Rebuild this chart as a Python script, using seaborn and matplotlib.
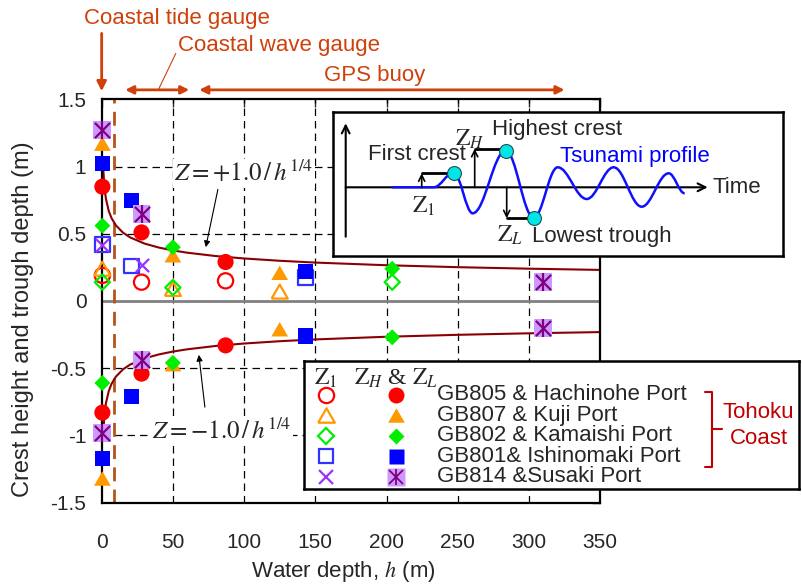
import numpy as np
import pandas as pd
import matplotlib
matplotlib.use("Agg")
import matplotlib.pyplot as plt
import seaborn as sns
from matplotlib.path import Path
from matplotlib.patches import PathPatch

# ---------------- data ----------------
station_labels = ["GB805 & Hachinohe Port", "GB807 & Kuji Port", "GB802 & Kamaishi Port",
                  "GB801& Ishinomaki Port", "GB814 &Susaki Port"]

h_805 = [0.5, 28, 87]
z1_805 = [0.19, 0.14, 0.15]
zh_805 = [0.85, 0.51, 0.29]
zl_805 = [-0.83, -0.54, -0.33]

h_807 = [0.5, 50, 125]
z1_807 = [0.24, 0.09, 0.07]
zh_807 = [1.17, 0.34, 0.21]
zl_807 = [-1.32, -0.47, -0.21]

h_802 = [0.5, 50, 204]
z1_802 = [0.14, 0.10, 0.14]
zh_802 = [0.56, 0.40, 0.24]
zl_802 = [-0.61, -0.46, -0.27]

h_801 = [0.5, 21, 143]
z1_801 = [0.42, 0.26, 0.175]
zh_801 = [1.02, 0.75, 0.22]
zl_801 = [-1.17, -0.71, -0.26]

h_814 = [0.5, 28, 310]
z1_814 = [0.42, 0.27, np.nan]
zh_814 = [1.27, 0.65, 0.14]
zl_814 = [-0.98, -0.44, -0.20]

# model curve Z = +/- 1.0 / h^(1/4), sampled depths
curve_h = [1, 2, 3, 5, 7, 10, 15, 20, 30, 40, 50, 60, 80, 100, 125, 150, 200, 250, 300, 350]
curve_coef = 1.0

x_ticks = [0, 50, 100, 150, 200, 250, 300, 350]
y_ticks = [-1.5, -1.0, -0.5, 0.0, 0.5, 1.0, 1.5]
y_ticklabels = ["-1.5", "-1", "-0.5", "0", "0.5", "1", "1.5"]
wave_gauge_limit = 9   # brown dashed line depth

# schematic tsunami profile (inset): extrema, arbitrary units
wave_t = [46, 88, 108, 127, 160, 188, 212, 241, 268, 296, 323, 339]
wave_z = [0, 0, 14.6, -26, 36.6, -30.4, 20, -11.7, 20, -19.4, 14, -6]

# ---------------- style ----------------
sns.set_style("white")
plt.rcParams["font.family"] = ["Liberation Sans", "DejaVu Sans"]
plt.rcParams["axes.unicode_minus"] = False
plt.rcParams["mathtext.fontset"] = "stix"

RED, ORANGE, GREEN, BLUE, OBLUE = "#FF0000", "#FF9900", "#00EE00", "#0000FF", "#3333FF"
PX, PSQ, PAST = "#9933FF", "#CC99FF", "#800080"
ANN = "#D0400A"
CURVE = "#8B0000"

tri = [(-1, -0.866), (1, -0.866), (0, 0.866), (-1, -0.866)]

styles = [
    dict(h=h_805, z1=z1_805, zh=zh_805, zl=zl_805, mk="o", c=RED, oc=RED, s_f=135, s_o=120),
    dict(h=h_807, z1=z1_807, zh=zh_807, zl=zl_807, mk=tri, c=ORANGE, oc=ORANGE, s_f=145, s_o=135),
    dict(h=h_802, z1=z1_802, zh=zh_802, zl=zl_802, mk="D", c=GREEN, oc=GREEN, s_f=66, s_o=60),
    dict(h=h_801, z1=z1_801, zh=zh_801, zl=zl_801, mk="s", c=BLUE, oc=OBLUE, s_f=118, s_o=108),
]

fig = plt.figure(figsize=(8.03, 5.84), dpi=100)
ax = fig.add_axes([0.1266, 0.1392, 0.6208, 0.6908])

ax.set_xlim(0, 350)
ax.set_ylim(-1.5, 1.5)
ax.set_xticks(x_ticks)
ax.set_yticks(y_ticks)
ax.set_yticklabels(y_ticklabels)
ax.tick_params(direction="in", top=True, right=True, length=6, width=1, labelsize=15)
ax.tick_params(axis="x", pad=22)
ax.tick_params(axis="y", pad=11)
for sp in ax.spines.values():
    sp.set_linewidth(1.6)
    sp.set_color("black")

# grid lines (dashed)
for xv in x_ticks[1:-1]:
    ax.axvline(xv, color="black", lw=0.9, ls=(0, (6, 4)), zorder=1)
for yv in [-1.0, -0.5, 0.5, 1.0]:
    ax.axhline(yv, color="black", lw=0.9, ls=(0, (6, 4)), zorder=1)
ax.axhline(0, color="#808080", lw=2, zorder=1.5)
ax.axvline(wave_gauge_limit, color="#B5541C", lw=2, ls=(0, (5, 3)), zorder=1.6)

# model curves
ch = np.array(curve_h, dtype=float)
curve_df = pd.DataFrame({"h": np.concatenate([ch, ch]),
                         "z": np.concatenate([curve_coef / ch ** 0.25, -curve_coef / ch ** 0.25]),
                         "side": ["up"] * len(ch) + ["down"] * len(ch)})
for side in ["up", "down"]:
    d = curve_df[curve_df["side"] == side]
    sns.lineplot(data=d, x="h", y="z", sort=False, estimator=None, color=CURVE, lw=1.5, ax=ax, zorder=2)

# data points
for st in styles:
    sns.scatterplot(x=st["h"], y=st["z1"], marker=st["mk"], s=st["s_o"], color=st["oc"],
                    facecolor="none", edgecolor=st["oc"], linewidth=1.6, ax=ax, zorder=3, clip_on=False)
for st in styles:
    sns.scatterplot(x=st["h"] + st["h"], y=st["zh"] + st["zl"], marker=st["mk"], s=st["s_f"],
                    color=st["c"], edgecolor="none", linewidth=0, ax=ax, zorder=4, clip_on=False)
sns.scatterplot(x=h_814, y=z1_814, marker="x", s=90, color=PX, linewidth=1.6, ax=ax, zorder=3, clip_on=False)
sns.scatterplot(x=h_814 + h_814, y=zh_814 + zl_814, marker="s", s=165, color=PSQ,
                edgecolor="none", linewidth=0, ax=ax, zorder=5, clip_on=False)
for mk, sz in [("x", 120), ("|", 150)]:
    sns.scatterplot(x=h_814 + h_814, y=zh_814 + zl_814, marker=mk, s=sz, color=PAST,
                    linewidth=1.6, ax=ax, zorder=6, clip_on=False)

ax.set_xlabel("Water depth, $h$ (m)", fontsize=16, math_fontfamily="stix")
ax.xaxis.set_label_coords(0.485, -0.140)
ax.set_ylabel("Crest height and trough depth (m)", fontsize=17)
ax.yaxis.set_label_coords(-0.136, 0.455)

# formula labels
ax.text(100, 0.95, r"$Z=+1.0\,/\,h^{1/4}$", fontsize=18, ha="center", va="center",
        bbox=dict(facecolor="white", edgecolor="none", pad=1), zorder=7)
ax.annotate("", xy=(72.7, 0.38), xytext=(82, 0.85),
            arrowprops=dict(arrowstyle="-|>", color="black", lw=0.8, mutation_scale=9), zorder=7)
ax.text(84.4, -0.972, r"$Z=-1.0\,/\,h^{1/4}$", fontsize=18, ha="center", va="center",
        bbox=dict(facecolor="white", edgecolor="none", pad=1), zorder=7)
ax.annotate("", xy=(68, -0.38), xytext=(72.7, -0.81),
            arrowprops=dict(arrowstyle="-|>", color="black", lw=0.8, mutation_scale=9), zorder=7)

# gauge annotations above the axes
ax.text(52.7, 2.10, "Coastal tide gauge", color=ANN, fontsize=16, ha="center", va="center", clip_on=False)
ax.text(124.4, 1.90, "Coastal wave gauge", color=ANN, fontsize=16, ha="center", va="center", clip_on=False)
ax.text(191.8, 1.675, "GPS buoy", color=ANN, fontsize=16, ha="center", va="center", clip_on=False)
ax.annotate("", xy=(0, 1.56), xytext=(0, 1.99), annotation_clip=False,
            arrowprops=dict(arrowstyle="-|>", color=ANN, lw=2, mutation_scale=14, shrinkA=0, shrinkB=0))
ax.annotate("", xy=(16.5, 1.57), xytext=(61.5, 1.57), annotation_clip=False,
            arrowprops=dict(arrowstyle="<|-|>", color=ANN, lw=2, mutation_scale=12, shrinkA=0, shrinkB=0))
ax.annotate("", xy=(68.5, 1.57), xytext=(325, 1.57), annotation_clip=False,
            arrowprops=dict(arrowstyle="<|-|>", color=ANN, lw=2, mutation_scale=12, shrinkA=0, shrinkB=0))
ax.annotate("", xy=(40, 1.575), xytext=(52, 1.84), annotation_clip=False,
            arrowprops=dict(arrowstyle="-", color=ANN, lw=0.8, shrinkA=0, shrinkB=0))

# ---------------- inset: tsunami profile schematic ----------------
ins = fig.add_axes([333.3 / 803, 1 - 255.7 / 584, 450 / 803, 144 / 584])
ins.set_xlim(-12.4, 437.6)
ins.set_ylim(-68.4, 75.6)
ins.set_xticks([]); ins.set_yticks([])
ins.set_facecolor("white")
for sp in ins.spines.values():
    sp.set_linewidth(1.8); sp.set_color("black"); sp.set_visible(True)
ins.annotate("", xy=(0, 64), xytext=(0, -49.4),
             arrowprops=dict(arrowstyle="->", color="black", lw=1.5, shrinkA=0, shrinkB=0, mutation_scale=14))
ins.annotate("", xy=(362, 0), xytext=(0, 0),
             arrowprops=dict(arrowstyle="->", color="black", lw=1.5, shrinkA=0, shrinkB=0, mutation_scale=14))
verts = [(wave_t[0], wave_z[0])]
codes = [Path.MOVETO]
for i in range(len(wave_t) - 1):
    t0, z0, t1, z1 = wave_t[i], wave_z[i], wave_t[i + 1], wave_z[i + 1]
    dt = t1 - t0
    verts += [(t0 + 0.37 * dt, z0), (t1 - 0.37 * dt, z1), (t1, z1)]
    codes += [Path.CURVE4] * 3
ins.add_patch(PathPatch(Path(verts, codes), facecolor="none", edgecolor="#1010FF", lw=1.8, zorder=3))
for (tx, tz) in [(wave_t[2], wave_z[2]), (wave_t[4], wave_z[4]), (wave_t[5], wave_z[5])]:
    ins.plot([tx], [tz], marker="o", ms=10, mfc="#00E5E5", mec="#205050", mew=0.8, zorder=5)
# Z1 / ZH / ZL indicators
for (xa, ztop, xend) in [(76, 14, 103), (129, 38.5, 154), (161, -31, 184)]:
    ins.annotate("", xy=(xa, ztop), xytext=(xa, 0),
                 arrowprops=dict(arrowstyle="->", color="black", lw=1.2, shrinkA=0, shrinkB=0, mutation_scale=11))
    ins.plot([xa, xend], [ztop, ztop], color="black", lw=2, zorder=2)
ins.text(71, 32.3, "First crest", fontsize=16, ha="center", va="center")
ins.text(211, 57.3, "Highest crest", fontsize=16, ha="center", va="center")
ins.text(289, 30.6, "Tsunami profile", fontsize=16, ha="center", va="center", color="#0000FF")
ins.text(256.6, -49.4, "Lowest trough", fontsize=16, ha="center", va="center")
ins.text(367, 0, "Time", fontsize=16, ha="left", va="center")
ins.text(78, -19.4, r"$\mathrm{Z}_{1}$", fontsize=17, ha="center", va="center")
ins.text(124, 48, r"$\mathrm{Z}_{H}$", fontsize=17, ha="center", va="center")
ins.text(164, -47.7, r"$\mathrm{Z}_{L}$", fontsize=17, ha="center", va="center")

# ---------------- legend box ----------------
lg = fig.add_axes([304 / 803, 1 - 489.3 / 584, 495 / 803, 128.3 / 584])
lg.set_xlim(304, 799)
lg.set_ylim(489.3, 361)
lg.set_xticks([]); lg.set_yticks([])
lg.set_facecolor("white")
for sp in lg.spines.values():
    sp.set_linewidth(1.8); sp.set_color("black"); sp.set_visible(True)
lg.text(326, 378.5, r"$\mathrm{Z}_{1}$", fontsize=17, ha="center", va="center")
lg.text(396, 378.5, r"$\mathrm{Z}_{H}$ & $\mathrm{Z}_{L}$", fontsize=17, ha="center", va="center",
        family=["Liberation Serif", "DejaVu Serif"])
row_y = [394.5, 415, 435.5, 456, 476.5]
open_keys = [("o", RED, 11), (tri, ORANGE, 12), ("D", GREEN, 8), ("s", OBLUE, 10.5), ("x", PX, 9.5)]
fill_keys = [("o", RED, 11.5), (tri, ORANGE, 12), ("D", GREEN, 8), ("s", BLUE, 10.8)]
for i, yv in enumerate(row_y):
    mk, col, ms = open_keys[i]
    lg.plot([326], [yv], marker=mk, ms=ms, mfc="none", mec=col, mew=1.6, ls="none")
    if i < 4:
        mk, col, ms = fill_keys[i]
        lg.plot([396], [yv], marker=mk, ms=ms, mfc=col, mec="none", ls="none")
    else:
        lg.plot([396], [yv], marker="s", ms=12.5, mfc=PSQ, mec="none", ls="none")
        lg.plot([396], [yv], marker="x", ms=10, mec=PAST, mew=1.3, ls="none")
        lg.plot([396], [yv], marker="|", ms=11, mec=PAST, mew=1.3, ls="none")
    lg.text(437, yv, station_labels[i], fontsize=16, ha="left", va="center")
BR = "#C00000"
lg.plot([705, 711.7, 711.7, 705], [391.7, 391.7, 466.5, 466.5], color=BR, lw=1.5)
lg.plot([711.7, 721.7], [429.3, 429.3], color=BR, lw=1.5)
lg.text(758.5, 413, "Tohoku", fontsize=16, ha="center", va="center", color=BR)
lg.text(758.5, 438, "Coast", fontsize=16, ha="center", va="center", color=BR)

fig.savefig("out.png", dpi=100)
